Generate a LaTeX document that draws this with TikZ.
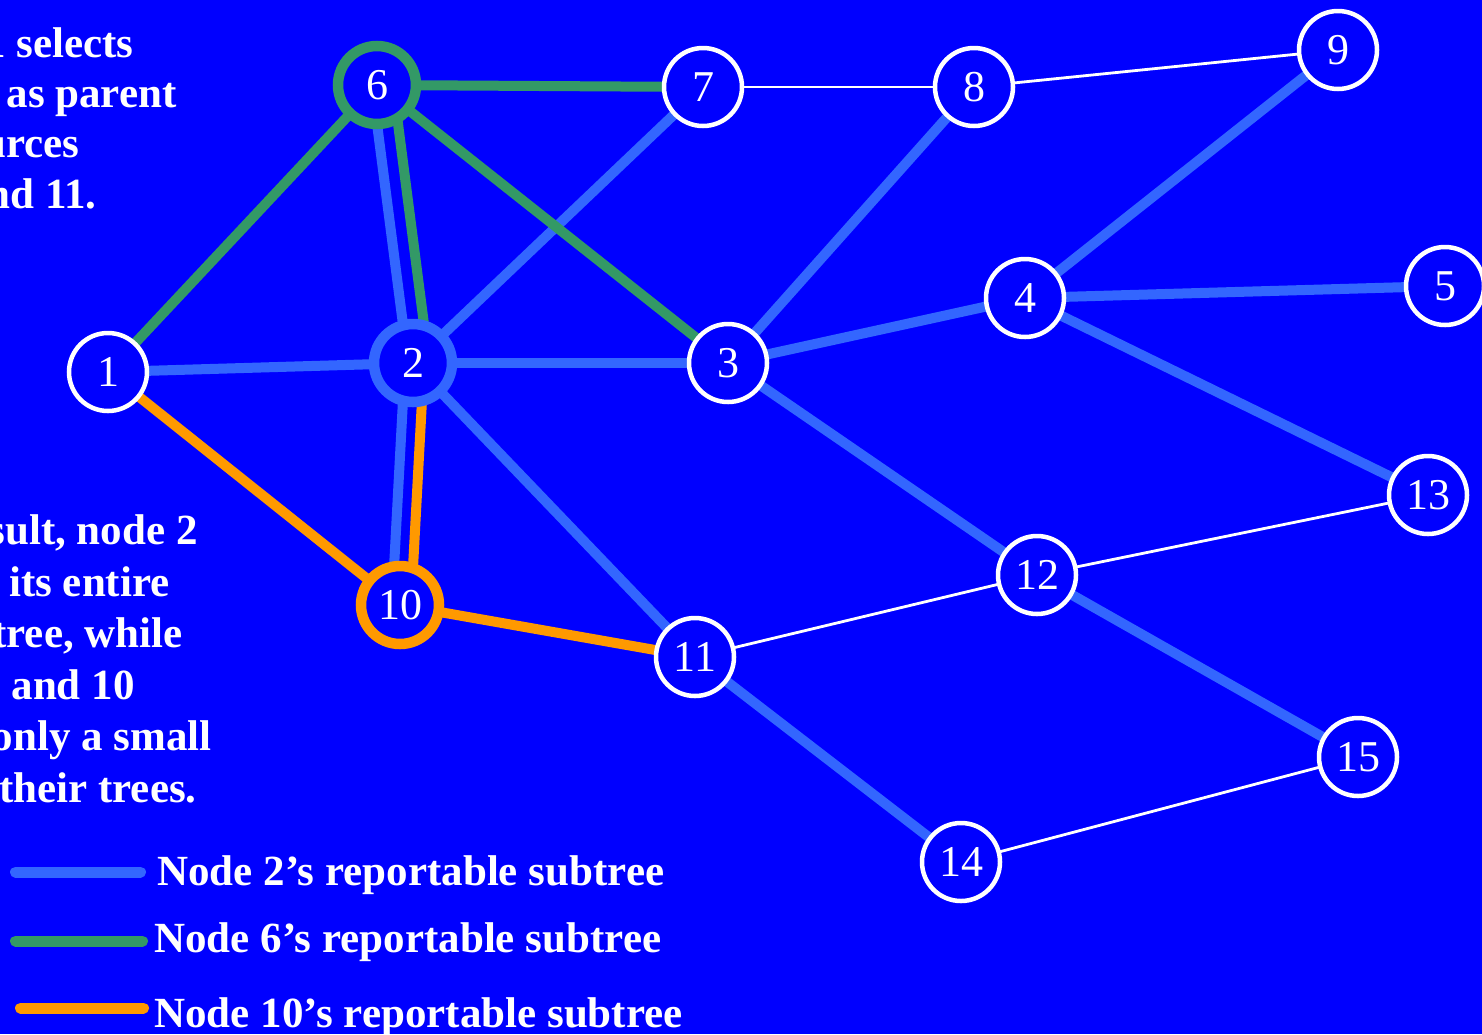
\documentclass[tikz,border=0pt]{standalone}
\usepackage{fontspec}
\setmainfont{Liberation Serif}
\definecolor{netbg}{RGB}{0,0,255}
\definecolor{netblue}{RGB}{51,102,255}
\definecolor{netgreen}{RGB}{51,153,102}
\definecolor{netorange}{RGB}{255,153,0}
\pgfdeclarelayer{edges}
\pgfsetlayers{edges,main}

\begin{document}
\begin{tikzpicture}[
    x=0.5pt, y=-0.5pt,
    netnode/.style={circle, draw=white, line width=2.25pt, fill=netbg, minimum size=39pt,
                    inner sep=0pt, text=white, font=\fontsize{22}{26}\selectfont},
    rootnode/.style={netnode, line width=5.25pt},
    tree/.style={line width=5pt},
    link/.style={draw=white, line width=1.4pt},
    note/.style={text=white, inner sep=0pt, font=\fontsize{21.5}{25}\selectfont\bfseries},
    swatch/.style={line width=5.5pt, line cap=round}
  ]
    \useasboundingbox (0,0) rectangle (1482,1034);
    \begin{pgfonlayer}{edges}
      \fill[netbg] (0,0) rectangle (1482,1034);
    \end{pgfonlayer}

    % Network nodes
    \foreach \n/\x/\y in {1/108/372, 3/728/363, 4/1025/298, 5/1445/286, 7/703/87,
                          8/974/87, 9/1338/50, 11/695/657, 12/1037/575, 13/1428/495,
                          14/961/862, 15/1358/757}{
      \node[netnode] (v\n) at (\x,\y) {\n};
    }
    \node[rootnode, draw=netblue] (v2) at (413,363) {2};
    \node[rootnode, draw=netgreen] (v6) at (377,85) {6};
    \node[rootnode, draw=netorange] (v10) at (400,605) {10};

    \begin{pgfonlayer}{edges}
      % Node 2's subtree
      \foreach \a/\b in {1/2, 2/3, 2/7, 2/11, 3/8, 3/4, 3/12, 4/9, 4/5, 4/13, 12/15, 11/14}{
        \draw[tree, netblue] (v\a.center) -- (v\b.center);
      }
      \draw[tree, netblue, transform canvas={xshift=-2.5pt}] (v6.center) -- (v2.center);
      \draw[tree, netblue, transform canvas={xshift=-4pt}] (v2.center) -- (v10.center);
      % Node 6's subtree
      \foreach \a/\b in {6/1, 6/7, 6/3}{
        \draw[tree, netgreen] (v\a.center) -- (v\b.center);
      }
      \draw[tree, netgreen, transform canvas={xshift=8pt}] (v6.center) -- (v2.center);
      % Node 10's subtree
      \foreach \a/\b in {10/1, 10/11}{
        \draw[tree, netorange] (v\a.center) -- (v\b.center);
      }
      \draw[tree, netorange, transform canvas={xshift=5.5pt}] (v2.center) -- (v10.center);
      % other links
      \foreach \a/\b in {7/8, 8/9, 11/12, 12/13, 14/15}{
        \draw[link] (v\a.center) -- (v\b.center);
      }
    \end{pgfonlayer}

    % Text on the left
    \foreach \t/\x/\y [count=\i] in {1 selects/134/57, as parent/177/107, urces/80/157,
                                     nd 11./97/208}{
      \node[note, anchor=base east] (top\i) at (\x,\y) {\t};
    }
    \foreach \t/\x/\y [count=\i] in {{sult, node 2}/198/544, its entire/170/596,
                                     {tree, while}/183/647, 6 and 10/135/699,
                                     only a small/212/750, their trees./197/802}{
      \node[note, anchor=base east] (low\i) at (\x,\y) {\t};
    }

    % Legend
    \draw[swatch, netblue] (15.5,872) -- (140.5,872);
    \draw[swatch, netgreen] (15.5,941) -- (142.5,941);
    \draw[swatch, netorange] (20.5,1008) -- (143.5,1008);
    \node[note, anchor=base west] (key2) at (157,885) {Node 2’s reportable subtree};
    \node[note, anchor=base west] (key6) at (154,952) {Node 6’s reportable subtree};
    \node[note, anchor=base west] (key10) at (154,1027) {Node 10’s reportable subtree};
  \end{tikzpicture}
\end{document}
